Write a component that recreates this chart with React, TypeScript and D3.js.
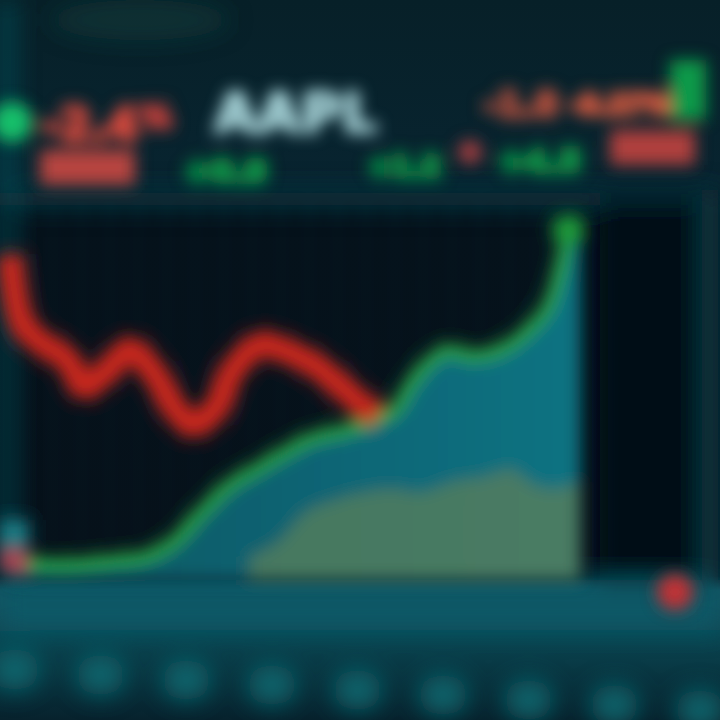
import React from 'react';
import * as d3 from 'd3';

// price path (red, falling) and (green, rising), t = session progress 0..100
const redT = [0, 2, 5, 10, 13, 17, 21, 25, 29, 32, 36, 39, 44, 48, 53.5, 58, 61, 64.5];
const redP = [85.5, 68, 63, 58, 51, 55, 60.5, 55, 45, 41, 45, 55, 62, 60.5, 56.5, 51, 47, 43];
const greenT = [0, 9, 17.5, 24.5, 29, 33, 38.5, 43, 47.5, 52.5, 59, 64, 67.5, 70, 74, 77, 80.5, 86, 90, 94, 96.5, 98, 100];
const greenP = [5, 4, 5, 6.5, 10.5, 17, 25, 29, 33, 37, 39.5, 42, 44.7, 51, 58, 60.5, 59, 60.5, 64.5, 71, 81.5, 89.5, 91];
const volT = [42, 47, 52, 57, 62, 67, 72, 78, 83, 88, 92, 96, 100];
const volP = [6, 10, 18, 21, 23, 24, 23, 26, 27, 29, 25, 24, 26];

const ticker = 'AAPL';
const headerRed = ['-2.4', '%'];
const headerRight = ['-1.8', '-3.27%'];
const headerGreen = ['+0.9', '+1.2', '+4.5'];
const bottomTicks = ['9:30', '10:00', '10:30', '11:00', '11:30', '12:00', '12:30', '13:00', '13:30'];

const W = 720;
const H = 720;

const App: React.FC = () => {
  const x = d3.scaleLinear().domain([0, 100]).range([10, 580]);
  const y = d3.scaleLinear().domain([0, 100]).range([580, 200]);

  const red = redT.map((t, i) => [t, redP[i]] as [number, number]);
  const green = greenT.map((t, i) => [t, greenP[i]] as [number, number]);
  const vol = volT.map((t, i) => [t, volP[i]] as [number, number]);

  const line = d3.line<[number, number]>()
    .x(d => x(d[0]))
    .y(d => y(d[1]))
    .curve(d3.curveCatmullRom);
  const area = d3.area<[number, number]>()
    .x(d => x(d[0]))
    .y0(y(0))
    .y1(d => y(d[1]))
    .curve(d3.curveCatmullRom);

  const gridTicks = x.ticks(20);
  const bx = d3.scalePoint<string>().domain(bottomTicks).range([15, 700]);
  const hdr = { fontFamily: 'DejaVu Sans', fontWeight: 'bold' as const, strokeWidth: 5 };

  return (
    <svg width={W} height={H} style={{ position: 'fixed', left: 0, top: 0 }}>
      <defs>
        <filter id="blur" x="-20%" y="-20%" width="140%" height="140%">
          <feGaussianBlur stdDeviation="8" />
        </filter>
        <filter id="blurBig" x="-20%" y="-20%" width="140%" height="140%">
          <feGaussianBlur stdDeviation="12" />
        </filter>
        <linearGradient id="bg" x1="0" y1="0" x2="0" y2="1">
          <stop offset="0" stopColor="#072028" />
          <stop offset="0.25" stopColor="#082430" />
          <stop offset="0.3" stopColor="#06141e" />
          <stop offset="0.8" stopColor="#07131d" />
          <stop offset="0.82" stopColor="#0b5563" />
          <stop offset="0.88" stopColor="#0a4753" />
          <stop offset="1" stopColor="#07222d" />
        </linearGradient>
        <linearGradient id="areaFill" x1="0" y1="0" x2="1" y2="0">
          <stop offset="0" stopColor="#0a5560" />
          <stop offset="0.6" stopColor="#0c6676" />
          <stop offset="1" stopColor="#0f7382" />
        </linearGradient>
      </defs>

      <rect width={W} height={H} fill="url(#bg)" />

      <g filter="url(#blurBig)">
        {/* top glow */}
        <ellipse cx={140} cy={20} rx={90} ry={20} fill="#1a4a44" opacity={0.4} />
        <rect x={0} y={190} width={720} height={18} fill="#0c3640" />
        {/* side panels */}
        <rect x={0} y={0} width={14} height={620} fill="#0d4c55" />
        <rect x={600} y={200} width={120} height={380} fill="#040c14" />
        <rect x={700} y={200} width={20} height={400} fill="#0a3a44" />
        {/* lower band */}
        <rect x={0} y={580} width={720} height={50} fill="#0c5866" />
        {bottomTicks.map((t, i) => (
          <ellipse key={t} cx={bx(t)} cy={670 + i * 5} rx={24} ry={20} fill="#0f6b72" opacity={0.9} />
        ))}
      </g>

      <g filter="url(#blur)">
        {gridTicks.map(t => (
          <line key={t} x1={x(t)} x2={x(t)} y1={205} y2={575} stroke="#0a1e2a" strokeWidth={3} opacity={0.6} />
        ))}
        <path d={area(green) ?? ''} fill="url(#areaFill)" />
        <path d={area(vol) ?? ''} fill="#527c5e" opacity={0.85} />
        <path d={line(green) ?? ''} fill="none" stroke="#2aa745" strokeWidth={12} />
        <path d={line(red) ?? ''} fill="none" stroke="#c6281f" strokeWidth={26} />
        <circle cx={x(98)} cy={y(92)} r={16} fill="#1f9a3a" />
        <circle cx={675} cy={592} r={18} fill="#c23035" />
        <rect x={0} y={520} width={28} height={28} fill="#1a7b84" />
        <rect x={0} y={550} width={28} height={20} fill="#b04552" />

        {/* header */}
        <circle cx={12} cy={122} r={20} fill="#13c06a" />
        <text x={42} y={140} {...hdr} fontSize={44} fill="#d84a3c" stroke="#d84a3c">{headerRed[0]}</text>
        <text x={140} y={128} {...hdr} fontSize={32} fill="#c2403a" stroke="#c2403a">{headerRed[1]}</text>
        <rect x={40} y={150} width={95} height={35} fill="#b84440" />
        <text x={214} y={132} {...hdr} fontSize={56} fill="#b6e4e8" stroke="#b6e4e8" strokeWidth={2}>{ticker}</text>
        <text x={184} y={182} {...hdr} fontSize={32} fill="#109a48" stroke="#109a48">{headerGreen[0]}</text>
        <text x={368} y={176} {...hdr} fontSize={28} fill="#109a48" stroke="#109a48">{headerGreen[1]}</text>
        <text x={484} y={116} {...hdr} fontSize={34} fill="#b4503e" stroke="#b4503e">{headerRight[0]}</text>
        <text x={570} y={114} {...hdr} fontSize={26} fill="#d85a40" stroke="#d85a40">{headerRight[1]}</text>
        <rect x={670} y={60} width={36} height={60} fill="#0f9a4a" />
        <circle cx={470} cy={152} r={12} fill="#a33c40" />
        <text x={498} y={172} {...hdr} fontSize={32} fill="#0e9a48" stroke="#0e9a48">{headerGreen[2]}</text>
        <rect x={610} y={130} width={85} height={35} fill="#b0403e" />
      </g>
    </svg>
  );
};

export default App;
